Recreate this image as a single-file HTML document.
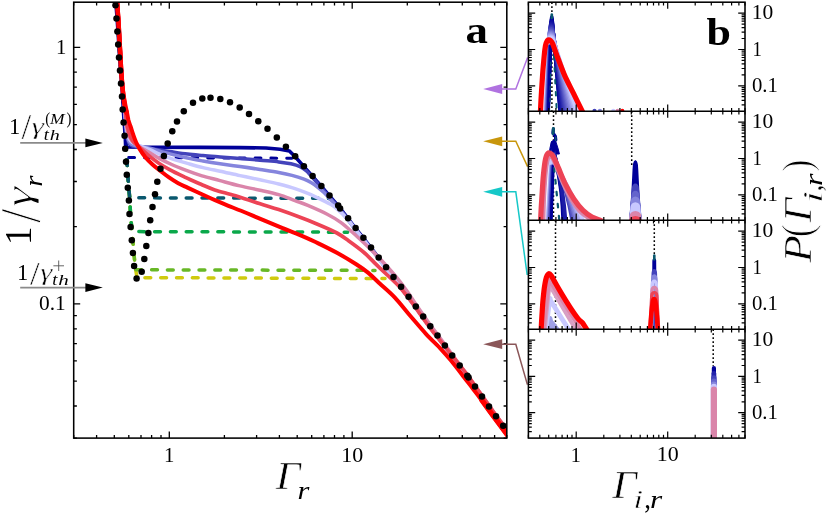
<!DOCTYPE html>
<html lang="en">
<head>
<meta charset="utf-8">
<title>Figure</title>
<style>
html,body{margin:0;padding:0;background:#fff;}
body{width:830px;height:516px;position:relative;overflow:hidden;font-family:"Liberation Serif",serif;}
</style>
</head>
<body>
<svg width="830" height="516" viewBox="0 0 830 516" style="position:absolute;left:0;top:0;display:block;will-change:transform" font-family="'Liberation Serif', serif">
<rect x="0" y="0" width="830" height="516" fill="#fff"/>
<defs>
<clipPath id="ca"><rect x="73.7" y="2.2" width="433.1" height="435.9"/></clipPath>
<clipPath id="cb0"><rect x="528.4" y="2.2" width="216.6" height="109"/></clipPath>
<clipPath id="cb1"><rect x="528.4" y="111.2" width="216.6" height="109"/></clipPath>
<clipPath id="cb2"><rect x="528.4" y="220.2" width="216.6" height="109"/></clipPath>
<clipPath id="cb3"><rect x="528.4" y="329.2" width="216.6" height="108.9"/></clipPath>
</defs>
<g clip-path="url(#ca)" fill="none" stroke-linecap="round" stroke-linejoin="round">
<path d="M116.2 2 L117.5 18.4 L118.4 31.4 L119.2 44.4 L120 57.5 L121 70.5 L122 83.5 L123 96.5 L123.7 109.6 L124.6 122.5 L125.6 135.7 L126.2 148.7 L127 161.8 L127.8 174.8 L128.8 187.8 L129.9 200.5 L130.5 213.9 L131.6 226.9 L132.8 240.2 L133.9 253.1 L135.1 266.1 L137 277.6 L138.5 277.6 L385 278.6" stroke="#d0ca0e" stroke-width="3.5" stroke-dasharray="5.8 10.0"/>
<path d="M116.2 2 L117.5 18.4 L118.4 31.4 L119.2 44.4 L120 57.5 L121 70.5 L122 83.5 L123 96.5 L123.7 109.6 L124.6 122.5 L125.6 135.7 L126.2 148.7 L127 161.8 L127.8 174.8 L128.8 187.8 L129.9 200.5 L130.5 213.9 L131.6 226.9 L132.8 240.2 L133.9 253.1 L135.1 266.1 L135.8 269.8 L137.3 269.8 L375 270.4" stroke="#68b826" stroke-width="3.5" stroke-dasharray="5.8 10.0"/>
<path d="M116.2 2 L117.5 18.4 L118.4 31.4 L119.2 44.4 L120 57.5 L121 70.5 L122 83.5 L123 96.5 L123.7 109.6 L124.6 122.5 L125.6 135.7 L126.2 148.7 L127 161.8 L127.8 174.8 L128.8 187.8 L129.9 200.5 L130.5 213.9 L131.6 226.9 L132 231.6 L133.5 231.6 L347.6 232.2" stroke="#0aa84a" stroke-width="3.5" stroke-dasharray="5.8 10.0"/>
<path d="M116.2 2 L117.5 18.4 L118.4 31.4 L119.2 44.4 L120 57.5 L121 70.5 L122 83.5 L123 96.5 L123.7 109.6 L124.6 122.5 L125.6 135.7 L126.2 148.7 L127 161.8 L127.8 174.8 L128.8 187.8 L129.7 197.8 L131.2 197.8 L331.5 198.4" stroke="#0a586e" stroke-width="3.5" stroke-dasharray="5.8 10.0"/>
<path d="M116.2 2 L117.5 18.4 L118.4 31.4 L119.2 44.4 L120 57.5 L121 70.5 L122 83.5 L123 96.5 L123.7 109.6 L124.6 122.5 L125.6 135.7 L126.2 148.7 L126.7 157.6 L128.2 157.6 L292 158.2" stroke="#000099" stroke-width="3" stroke-dasharray="5.8 10.0"/>
<path d="M115.8 2 L117.1 18.4 L118 31.4 L118.8 44.4 L119.6 57.5 L120.6 70.5 L121.6 83.5 L122.6 96.5 L123.3 109.6 L124.2 122.5 L125.2 135.7 L125.6 145.4 L127.2 147 L140 147.2 L200 147.4 L240 147.6 L266 148 L280 149.2 L289.4 151 L295.2 156.7 L303.9 166.6 L312.6 176.5 L321.4 186.4 L329.5 195.9 L338.2 205.9 L348.1 218.7 L355.6 228.5 L363.4 238.2 L371 247.9 L378.7 257.9 L386.1 267.7 L393.5 277.4 L401.1 287.1 L408.6 297.2 L415.8 306.9 L423.2 317 L430.3 326.7 L437.5 336 L444.9 345.9 L452.2 356 L459.7 366 L467.3 376.2 L475 387 L482 397 L489 406.8 L496 416.6 L503.2 426.1 L510.4 435.8 L517.6 445.4" stroke="#000099" stroke-width="3.6"/>
<path d="M117.3 2 C117.5 5 118.1 12.8 118.6 20 C119 27.2 119.5 36.7 120 45 C120.5 53.3 120.9 62.5 121.4 70 C121.9 77.5 122.5 84.2 122.9 90 C123.3 95.8 123.5 99.2 124 105 C124.5 110.8 125.1 119.5 125.6 125 C126.1 130.5 126.5 134.7 127.2 138 C127.9 141.3 128.5 143.1 130 144.6 C131.5 146.1 132.6 146.3 136 147 C139.4 147.7 146.1 148.4 150.3 148.9 C154.5 149.4 157.6 149.7 161.2 150.2 C164.8 150.7 167.6 151.2 172 151.8 C176.4 152.5 182.3 153.5 187.5 154.1 C192.7 154.7 197.6 155.1 203 155.6 C208.4 156.1 213.8 156.5 220 157 C226.2 157.5 233.3 158.1 240 158.6 C246.7 159.1 253.6 159.6 260 160.2 C266.4 160.8 273.5 161.3 278.7 161.9 C283.9 162.5 287.4 163 291 163.8 C294.6 164.6 297.4 165.4 300 166.6 C302.6 167.8 304.6 169.3 306.5 171 C308.4 172.7 309.4 174.1 311.7 176.6 C313.9 179.1 317.1 182.7 320 186 C322.9 189.3 326.1 193.3 329 196.6 C331.9 199.9 334.4 202.3 337.5 206 C340.6 209.7 344.6 215.1 347.5 218.8 C350.4 222.6 352.2 225.3 354.8 228.5 C357.3 231.7 360.1 235 362.7 238.2 C365.3 241.4 367.8 244.6 370.4 247.9 C373 251.2 375.7 254.6 378.3 257.9 C380.8 261.2 383.2 264.4 385.7 267.7 C388.2 270.9 390.6 274.2 393.1 277.4 C395.6 280.6 398.2 283.8 400.7 287.1 C403.2 290.4 405.8 293.9 408.2 297.2 C410.7 300.5 413 303.6 415.4 306.9 C417.8 310.2 420.4 313.7 422.8 317 C425.2 320.3 427.5 323.5 429.9 326.7 C432.3 329.9 434.7 332.8 437.1 336 C439.5 339.2 442.1 342.6 444.5 345.9 C446.9 349.2 449.3 352.6 451.8 356 C454.3 359.4 456.8 362.6 459.3 366 C461.8 369.4 464.4 372.7 466.9 376.2 C469.5 379.7 472.2 383.5 474.6 387 C477.1 390.5 479.3 393.7 481.6 397 C483.9 400.3 486.3 403.5 488.6 406.8 C490.9 410.1 493.2 413.4 495.6 416.6 C498 419.8 500.4 422.9 502.8 426.1 C505.2 429.3 507.6 432.6 510 435.8 C512.4 439 516 443.8 517.2 445.4" stroke="#4343bb" stroke-width="3.5"/>
<path d="M117.3 2 C117.5 5 118.1 12.8 118.6 20 C119 27.2 119.5 36.7 120 45 C120.5 53.3 120.9 62.5 121.4 70 C121.9 77.5 122.4 84.2 122.9 90 C123.4 95.8 123.7 99.2 124.2 105 C124.7 110.8 125.2 119.7 125.7 125 C126.2 130.3 126.6 133.9 127.4 137 C128.2 140.1 128.8 141.9 130.5 143.4 C132.2 144.9 134.2 145.4 137.5 146.2 C140.8 147 146.1 147.4 150 148.3 C153.9 149.2 157.5 150.6 161.2 151.6 C164.9 152.6 167.6 153.3 172 154.4 C176.4 155.5 182.3 156.9 187.5 158 C192.7 159.1 197.6 160 203 161 C208.4 162 213.8 162.9 220 163.8 C226.2 164.7 233.3 165.7 240 166.6 C246.7 167.5 253.6 168.5 260 169.5 C266.4 170.5 273.4 171.5 278.7 172.5 C284 173.5 287.8 174.3 292 175.4 C296.2 176.5 300.8 178 304 179.2 C307.2 180.4 308.8 181.3 311 182.6 C313.2 183.9 315.3 185.3 317.5 187 C319.7 188.7 321.8 190.4 324 192.6 C326.2 194.8 328.8 197.6 331 200 C333.2 202.4 334.8 204 337.5 207.2 C340.2 210.4 344.7 215.6 347.5 219.2 C350.3 222.8 352 225.3 354.5 228.5 C357 231.7 359.8 235 362.4 238.2 C365.1 241.4 367.6 244.6 370.2 247.9 C372.8 251.2 375.5 254.6 378.1 257.9 C380.6 261.2 383 264.4 385.5 267.7 C388 270.9 390.4 274.2 392.9 277.4 C395.4 280.6 398 283.8 400.5 287.1 C403 290.4 405.6 293.9 408 297.2 C410.4 300.5 412.8 303.6 415.2 306.9 C417.6 310.2 420.2 313.7 422.6 317 C425 320.3 427.3 323.5 429.7 326.7 C432.1 329.9 434.5 332.8 436.9 336 C439.3 339.2 441.8 342.6 444.3 345.9 C446.7 349.2 449.1 352.6 451.6 356 C454.1 359.4 456.6 362.6 459.1 366 C461.6 369.4 464.1 372.7 466.7 376.2 C469.2 379.7 471.9 383.5 474.4 387 C476.8 390.5 479.1 393.7 481.4 397 C483.7 400.3 486.1 403.5 488.4 406.8 C490.7 410.1 493 413.4 495.4 416.6 C497.8 419.8 500.2 422.9 502.6 426.1 C505 429.3 507.4 432.6 509.8 435.8 C512.2 439 515.8 443.8 517 445.4" stroke="#8585dd" stroke-width="3.5"/>
<path d="M117.3 2 C117.5 5 118.1 12.8 118.6 20 C119 27.2 119.5 36.7 120 45 C120.5 53.3 120.9 62.5 121.4 70 C121.9 77.5 122.4 84.2 122.9 90 C123.4 95.8 123.9 99.3 124.4 105 C124.9 110.7 125.4 119 126 124 C126.6 129 126.9 132.1 127.8 135 C128.7 137.9 129.3 139.9 131.2 141.6 C133.1 143.3 135.9 144.1 139 145.4 C142.1 146.7 145.9 147.9 149.5 149.4 C153.1 150.9 156.8 153.1 160.4 154.6 C164.1 156.1 166.9 157.1 171.4 158.6 C175.9 160.1 182.2 161.9 187.5 163.4 C192.8 164.9 197.6 166.3 203 167.6 C208.4 168.9 213.8 169.9 220 171.2 C226.2 172.5 233.3 174.2 240 175.6 C246.7 177 253.6 178.4 260 179.8 C266.4 181.2 272.9 182.5 278.7 184 C284.5 185.5 290.1 187 295 188.6 C299.9 190.2 303.1 191.4 307.8 193.4 C312.5 195.4 319.4 198.7 323.3 200.6 C327.2 202.5 328.7 203.2 331 204.6 C333.3 206 334.9 207.1 336.9 208.8 C338.9 210.5 341.1 212.7 343 214.6 C344.9 216.5 346.3 217.8 348.5 220.4 C350.7 223 353.7 227 356 230 C358.3 233 360 235.2 362.3 238.2 C364.7 241.2 367.4 244.6 370 247.9 C372.6 251.2 375.3 254.6 377.8 257.9 C380.3 261.2 382.8 264.4 385.3 267.7 C387.8 270.9 390.2 274.2 392.7 277.4 C395.2 280.6 397.8 283.8 400.3 287.1 C402.8 290.4 405.4 293.9 407.8 297.2 C410.2 300.5 412.6 303.6 415 306.9 C417.4 310.2 420 313.7 422.4 317 C424.8 320.3 427.1 323.5 429.5 326.7 C431.9 329.9 434.3 332.8 436.7 336 C439.1 339.2 441.6 342.6 444.1 345.9 C446.5 349.2 448.9 352.6 451.4 356 C453.9 359.4 456.4 362.6 458.9 366 C461.4 369.4 463.9 372.7 466.5 376.2 C469.1 379.7 471.8 383.5 474.2 387 C476.6 390.5 478.9 393.7 481.2 397 C483.5 400.3 485.9 403.5 488.2 406.8 C490.5 410.1 492.8 413.4 495.2 416.6 C497.6 419.8 500 422.9 502.4 426.1 C504.8 429.3 507.2 432.6 509.6 435.8 C512 439 515.6 443.8 516.8 445.4" stroke="#c8c8ff" stroke-width="3.5"/>
<path d="M117.3 2 C117.5 5 118.1 12.8 118.6 20 C119 27.2 119.5 36.7 120 45 C120.5 53.3 120.9 62.5 121.4 70 C121.9 77.5 122.4 84.2 122.9 90 C123.4 95.8 124 99.5 124.6 105 C125.1 110.5 125.6 118.2 126.2 123 C126.8 127.8 127.2 130.6 128.2 133.6 C129.2 136.6 130.3 138.8 132.2 141 C134.1 143.2 136.7 144.8 139.4 146.6 C142.1 148.4 145.2 150 148.6 152 C152 154 155.9 156.6 159.6 158.6 C163.3 160.6 166.1 162 170.6 164 C175.1 166 181.1 168.4 186.3 170.4 C191.5 172.4 196.4 174.1 202 175.8 C207.6 177.5 213.7 178.9 220 180.6 C226.3 182.3 233.3 184.3 240 185.9 C246.7 187.5 253.6 188.8 260 190.2 C266.4 191.6 272.9 192.9 278.7 194.6 C284.5 196.3 290.1 198.8 295 200.6 C299.9 202.4 302.4 203.1 307.8 205.4 C313.2 207.7 321.7 211.4 327.2 214.2 C332.7 217 336.5 219.3 340.7 222.3 C344.9 225.3 348.2 228.4 352.4 232.2 C356.6 235.9 361.4 240.5 365.9 244.8 C370.4 249.2 375.3 253.9 379.5 258.3 C383.7 262.7 387.7 267.1 391.1 271 C394.5 274.9 397.2 278 400 281.6 C402.8 285.2 405.5 289 408 292.6 C410.5 296.2 412.2 298.9 415 303 C417.8 307.1 422 313.1 424.7 317 C427.5 320.9 429.3 323.5 431.6 326.7 C434 329.9 436.3 332.8 438.6 336 C441 339.2 443.5 342.6 445.9 345.9 C448.3 349.2 450.7 352.6 453.2 356 C455.7 359.4 458.2 362.6 460.7 366 C463.2 369.4 465.8 372.7 468.3 376.2 C470.9 379.7 473.6 383.5 476 387 C478.4 390.5 480.7 393.7 483 397 C485.3 400.3 487.7 403.5 490 406.8 C492.3 410.1 494.6 413.4 497 416.6 C499.4 419.8 501.8 422.9 504.2 426.1 C506.6 429.3 509 432.6 511.4 435.8 C513.8 439 517.4 443.8 518.6 445.4" stroke="#da85aa" stroke-width="3.5"/>
<path d="M117.3 2 C117.5 5 118.1 12.8 118.6 20 C119 27.2 119.5 36.7 120 45 C120.5 53.3 120.9 62.5 121.4 70 C121.9 77.5 122.3 84.2 122.9 90 C123.5 95.8 124.2 99.8 124.8 105 C125.4 110.2 125.8 116.6 126.4 121 C127 125.4 127.6 128.3 128.6 131.6 C129.6 134.9 130.9 138.1 132.6 140.6 C134.3 143.1 136 144.2 138.6 146.6 C141.2 149 144.5 152.1 147.9 154.9 C151.3 157.7 155.2 160.8 158.8 163.2 C162.4 165.6 165.2 167.2 169.6 169.6 C174 172 180.1 174.9 185.3 177.4 C190.5 179.9 196.1 182.2 201 184.3 C205.9 186.4 209 188 214.8 189.9 C220.6 191.8 228.2 193.4 235.6 195.7 C243 198 252.2 201.3 259.4 203.6 C266.6 205.9 272.2 207.4 278.7 209.6 C285.1 211.8 291.6 214.1 298.1 216.5 C304.6 218.9 311 221.4 317.5 224.2 C324 226.9 331.7 230.2 336.9 233 C342.1 235.8 344 237.4 348.5 240.7 C353 243.9 359.5 248.6 364 252.5 C368.5 256.4 371.7 260.1 375.6 263.9 C379.5 267.6 383.1 271.1 387.2 275 C391.3 278.9 396.2 283.2 400 287.4 C403.8 291.6 406.7 295.6 410 300 C413.3 304.4 416.7 309.3 420 314 C423.3 318.7 427.3 324.3 430 328 C432.7 331.7 434 333 436.4 336 C438.8 339 441.7 342.6 444.4 345.9 C447 349.2 449.6 352.6 452.3 356 C455 359.4 457.8 362.6 460.4 366 C463.1 369.4 465.6 372.7 468.2 376.2 C470.8 379.7 473.4 383.5 475.9 387 C478.3 390.5 480.6 393.7 482.9 397 C485.2 400.3 487.6 403.5 489.9 406.8 C492.2 410.1 494.5 413.4 496.9 416.6 C499.3 419.8 501.7 422.9 504.1 426.1 C506.5 429.3 508.9 432.6 511.3 435.8 C513.7 439 517.3 443.8 518.5 445.4" stroke="#ed4355" stroke-width="3.7"/>
<path d="M117.3 2 C117.5 5 118.1 12.8 118.6 20 C119 27.2 119.5 36.7 120 45 C120.5 53.3 120.9 62.5 121.4 70 C121.9 77.5 122.2 84.2 122.9 90 C123.6 95.8 124.8 101.5 125.4 105 C126 108.5 126.2 108.5 126.7 111 C127.2 113.5 127.8 117.4 128.4 120 C129.1 122.6 129.8 124.2 130.6 126.5 C131.4 128.8 132.1 131.4 133 134 C133.9 136.6 134.9 139.6 136 142 C137.1 144.4 137.8 146 139.4 148.6 C141 151.2 143.4 154.8 145.6 157.5 C147.8 160.2 150 162.2 152.5 164.5 C155 166.8 157.9 168.9 160.7 171.1 C163.4 173.2 166.1 175.4 169 177.4 C171.9 179.4 175.1 181.5 178.2 183.2 C181.3 184.9 183.4 185.7 187.5 187.6 C191.6 189.5 198.4 192.7 203 194.8 C207.6 196.9 210.8 198.4 215 200.2 C219.2 202 223.2 203.7 228.4 205.8 C233.7 207.9 240.5 210.5 246.5 213 C252.5 215.5 258.6 218.1 264.6 220.6 C270.6 223.1 276.6 225.7 282.6 228.2 C288.6 230.7 294.7 232.8 300.7 235.4 C306.7 238 312.8 240.7 318.8 243.6 C324.8 246.5 330.7 249.4 336.9 252.8 C343.1 256.2 351 260.9 356.2 264.2 C361.4 267.5 364.1 269.4 368 272.6 C371.9 275.8 374.9 279 379.4 283.2 C383.9 287.4 389.7 292.1 394.9 297.6 C400.1 303.1 405.2 310 410.4 316 C415.6 322 420.7 328.2 425.9 333.8 C431.1 339.4 437.2 345.1 441.4 349.6 C445.6 354.1 447.4 356.2 451 360.6 C454.6 365 459.8 371.8 463.2 376.2 C466.7 380.6 468.9 383.5 471.6 387 C474.2 390.5 476.7 393.7 479.2 397 C481.6 400.3 484 403.5 486.4 406.8 C488.8 410.1 491 413.4 493.4 416.6 C495.8 419.8 498.2 422.9 500.6 426.1 C503 429.3 505.4 432.6 507.8 435.8 C510.2 439 513.8 443.8 515 445.4" stroke="#ff0000" stroke-width="4"/>
<path d="M117 2 C117.2 5 117.8 12.8 118.3 20 C118.8 27.2 119.2 36.7 119.7 45 C120.2 53.3 120.6 62.5 121.1 70 C121.6 77.5 122.1 84.2 122.7 90 C123.3 95.8 123.9 101.2 124.6 105 C125.2 108.8 126.3 111.7 126.6 113" stroke="#ff0000" stroke-width="4.6"/>
<path d="M481.8 400 L489 410 L500.1 425 L515 445" stroke="#ff0000" stroke-width="5.4"/>
<g fill="#000" stroke="none">
<circle cx="115.5" cy="5.2" r="3.25"/>
<circle cx="116.5" cy="18.4" r="3.25"/>
<circle cx="117.4" cy="31.4" r="3.25"/>
<circle cx="118.2" cy="44.4" r="3.25"/>
<circle cx="119" cy="57.5" r="3.25"/>
<circle cx="120" cy="70.5" r="3.25"/>
<circle cx="121" cy="83.5" r="3.25"/>
<circle cx="122" cy="96.5" r="3.25"/>
<circle cx="122.7" cy="109.6" r="3.25"/>
<circle cx="123.6" cy="122.5" r="3.25"/>
<circle cx="124.6" cy="135.7" r="3.25"/>
<circle cx="125.2" cy="148.7" r="3.25"/>
<circle cx="126" cy="161.8" r="3.25"/>
<circle cx="126.8" cy="174.8" r="3.25"/>
<circle cx="127.8" cy="187.8" r="3.25"/>
<circle cx="128.9" cy="200.5" r="3.25"/>
<circle cx="129.5" cy="213.9" r="3.25"/>
<circle cx="130.6" cy="226.9" r="3.25"/>
<circle cx="131.8" cy="240.2" r="3.25"/>
<circle cx="132.9" cy="253.1" r="3.25"/>
<circle cx="134.1" cy="266.1" r="3.25"/>
<circle cx="136.6" cy="278.6" r="3.25"/>
<circle cx="141.7" cy="271.7" r="3.25"/>
<circle cx="144.3" cy="258.9" r="3.25"/>
<circle cx="146.3" cy="246" r="3.25"/>
<circle cx="148.4" cy="232.9" r="3.25"/>
<circle cx="150.2" cy="220.3" r="3.25"/>
<circle cx="152.5" cy="207.1" r="3.25"/>
<circle cx="155" cy="194.3" r="3.25"/>
<circle cx="157.3" cy="181.7" r="3.25"/>
<circle cx="160.5" cy="168.7" r="3.25"/>
<circle cx="163.9" cy="156" r="3.25"/>
<circle cx="167.7" cy="143.4" r="3.25"/>
<circle cx="172.3" cy="131.3" r="3.25"/>
<circle cx="177" cy="121.5" r="3.25"/>
<circle cx="183.8" cy="111.3" r="3.25"/>
<circle cx="193" cy="102.8" r="3.25"/>
<circle cx="202.3" cy="98.5" r="3.25"/>
<circle cx="210.5" cy="97.8" r="3.25"/>
<circle cx="220.3" cy="99" r="3.25"/>
<circle cx="230" cy="102.2" r="3.25"/>
<circle cx="239.7" cy="107.6" r="3.25"/>
<circle cx="249" cy="114" r="3.25"/>
<circle cx="258.3" cy="121.3" r="3.25"/>
<circle cx="267.5" cy="128.7" r="3.25"/>
<circle cx="276.8" cy="137.4" r="3.25"/>
<circle cx="285.9" cy="146.7" r="3.25"/>
<circle cx="295.2" cy="156.3" r="3.25"/>
<circle cx="303.9" cy="166.2" r="3.25"/>
<circle cx="312.6" cy="176.1" r="3.25"/>
<circle cx="321.4" cy="186" r="3.25"/>
<circle cx="329.5" cy="195.5" r="3.25"/>
<circle cx="338.2" cy="205.5" r="3.25"/>
<circle cx="340.1" cy="208.6" r="3.25"/>
<circle cx="348.1" cy="218.3" r="3.25"/>
<circle cx="355.6" cy="228.1" r="3.25"/>
<circle cx="363.4" cy="237.8" r="3.25"/>
<circle cx="371" cy="247.5" r="3.25"/>
<circle cx="378.7" cy="257.5" r="3.25"/>
<circle cx="386.1" cy="267.3" r="3.25"/>
<circle cx="393.5" cy="277" r="3.25"/>
<circle cx="401.1" cy="286.7" r="3.25"/>
<circle cx="408.6" cy="296.8" r="3.25"/>
<circle cx="415.8" cy="306.5" r="3.25"/>
<circle cx="423.2" cy="316.6" r="3.25"/>
<circle cx="430.3" cy="326.3" r="3.25"/>
<circle cx="437.5" cy="335.6" r="3.25"/>
<circle cx="444.9" cy="345.5" r="3.25"/>
<circle cx="452.2" cy="355.6" r="3.25"/>
<circle cx="459.7" cy="365.6" r="3.25"/>
<circle cx="468.6" cy="377.4" r="3.25"/>
<circle cx="467.3" cy="375.8" r="3.25"/>
<circle cx="475" cy="386.6" r="3.25"/>
<circle cx="482" cy="396.6" r="3.25"/>
<circle cx="489" cy="406.4" r="3.25"/>
<circle cx="496" cy="416.2" r="3.25"/>
<circle cx="503.2" cy="425.7" r="3.25"/>
</g>
</g>
<g stroke="#000" stroke-width="1.3" fill="none">
<path d="M73.7 438.1 v-3.2 M73.7 2.2 v3.2"/>
<path d="M96.6 438.1 v-3.2 M96.6 2.2 v3.2"/>
<path d="M114.3 438.1 v-3.2 M114.3 2.2 v3.2"/>
<path d="M128.8 438.1 v-3.2 M128.8 2.2 v3.2"/>
<path d="M141 438.1 v-3.2 M141 2.2 v3.2"/>
<path d="M151.6 438.1 v-3.2 M151.6 2.2 v3.2"/>
<path d="M161 438.1 v-3.2 M161 2.2 v3.2"/>
<path d="M169.3 438.1 v-6.5 M169.3 2.2 v6.5"/>
<path d="M224.4 438.1 v-3.2 M224.4 2.2 v3.2"/>
<path d="M256.6 438.1 v-3.2 M256.6 2.2 v3.2"/>
<path d="M279.4 438.1 v-3.2 M279.4 2.2 v3.2"/>
<path d="M297.2 438.1 v-3.2 M297.2 2.2 v3.2"/>
<path d="M311.7 438.1 v-3.2 M311.7 2.2 v3.2"/>
<path d="M323.9 438.1 v-3.2 M323.9 2.2 v3.2"/>
<path d="M334.5 438.1 v-3.2 M334.5 2.2 v3.2"/>
<path d="M343.9 438.1 v-3.2 M343.9 2.2 v3.2"/>
<path d="M352.2 438.1 v-6.5 M352.2 2.2 v6.5"/>
<path d="M407.3 438.1 v-3.2 M407.3 2.2 v3.2"/>
<path d="M439.5 438.1 v-3.2 M439.5 2.2 v3.2"/>
<path d="M462.3 438.1 v-3.2 M462.3 2.2 v3.2"/>
<path d="M480.1 438.1 v-3.2 M480.1 2.2 v3.2"/>
<path d="M494.6 438.1 v-3.2 M494.6 2.2 v3.2"/>
<path d="M506.8 438.1 v-3.2 M506.8 2.2 v3.2"/>
<path d="M73.7 438.1 h3.2 M506.8 438.1 h-3.2"/>
<path d="M73.7 406 h3.2 M506.8 406 h-3.2"/>
<path d="M73.7 381.2 h3.2 M506.8 381.2 h-3.2"/>
<path d="M73.7 360.9 h3.2 M506.8 360.9 h-3.2"/>
<path d="M73.7 343.7 h3.2 M506.8 343.7 h-3.2"/>
<path d="M73.7 328.8 h3.2 M506.8 328.8 h-3.2"/>
<path d="M73.7 315.7 h3.2 M506.8 315.7 h-3.2"/>
<path d="M73.7 303.9 h6.5 M506.8 303.9 h-6.5"/>
<path d="M73.7 226.7 h3.2 M506.8 226.7 h-3.2"/>
<path d="M73.7 181.5 h3.2 M506.8 181.5 h-3.2"/>
<path d="M73.7 149.5 h3.2 M506.8 149.5 h-3.2"/>
<path d="M73.7 124.6 h3.2 M506.8 124.6 h-3.2"/>
<path d="M73.7 104.3 h3.2 M506.8 104.3 h-3.2"/>
<path d="M73.7 87.1 h3.2 M506.8 87.1 h-3.2"/>
<path d="M73.7 72.2 h3.2 M506.8 72.2 h-3.2"/>
<path d="M73.7 59.1 h3.2 M506.8 59.1 h-3.2"/>
<path d="M73.7 47.4 h6.5 M506.8 47.4 h-6.5"/>
</g>
<rect x="73.7" y="2.2" width="433.1" height="435.9" fill="none" stroke="#000" stroke-width="1.55"/>
<text transform="matrix(0.2074 0 0 0.2106 164.08 461.70)" font-size="100" fill="#000">1</text>
<text transform="matrix(0.2197 0 0 0.2089 341.27 461.50)" font-size="100" fill="#000">10</text>
<text transform="matrix(0.2074 0 0 0.2136 55.98 53.90)" font-size="100" fill="#000">1</text>
<text transform="matrix(0.2136 0 0 0.2091 38.99 310.10)" font-size="100" fill="#000">0.1</text>
<text transform="matrix(0.4336 0 0 0.4017 275.86 488.60)" font-size="100" fill="#000" stroke="#fff" stroke-width="0.6" vector-effect="non-scaling-stroke" font-style="italic">Γ</text>
<text transform="matrix(0.3044 0 0 0.2547 297.47 499.10)" font-size="100" fill="#000" font-style="italic">r</text>
<text transform="rotate(-90) matrix(0.3693 0 0 0.3832 -244.95 31.40)" font-size="100" fill="#000">1</text>
<text transform="rotate(-90) matrix(0.5147 0 0 0.5666 -222.90 39.95)" font-size="100" fill="#000" stroke="#fff" stroke-width="0.9" vector-effect="non-scaling-stroke">/</text>
<text transform="rotate(-90) matrix(0.5126 0 0 0.3676 -206.93 30.87)" font-size="100" fill="#000" stroke="#fff" stroke-width="1" vector-effect="non-scaling-stroke" font-style="italic">γ</text>
<text transform="rotate(-90) matrix(0.2873 0 0 0.2589 -186.76 41.90)" font-size="100" fill="#000" font-style="italic">r</text>
<path d="M20.2 142.9 H88" stroke="#8a8a8a" stroke-width="1.6" fill="none"/>
<path d="M102.8 142.9 L85.4 138.6 L85.4 147.2 Z" fill="#000"/>
<text transform="matrix(0.2272 0 0 0.2363 8.90 133.70)" font-size="100" fill="#000">1</text>
<text transform="matrix(0.3491 0 0 0.3588 21.40 139.25)" font-size="100" fill="#000" stroke="#fff" stroke-width="0.5" vector-effect="non-scaling-stroke">/</text>
<text transform="matrix(0.3166 0 0 0.2322 31.43 133.86)" font-size="100" fill="#000" stroke="#fff" stroke-width="0.5" vector-effect="non-scaling-stroke" font-style="italic">γ</text>
<text transform="matrix(0.1851 0 0 0.1676 43.79 139.74)" font-size="100" fill="#000" font-style="italic">t</text>
<text transform="matrix(0.2012 0 0 0.1499 49.77 139.90)" font-size="100" fill="#000" font-style="italic">h</text>
<text transform="matrix(0.1480 0 0 0.1577 45.25 124.04)" font-size="100" fill="#000">(</text>
<text transform="matrix(0.1752 0 0 0.1481 49.91 124.00)" font-size="100" fill="#000" font-style="italic">M</text>
<text transform="matrix(0.1480 0 0 0.1577 66.52 124.04)" font-size="100" fill="#000">)</text>
<path d="M20.2 287.6 H88" stroke="#8a8a8a" stroke-width="1.6" fill="none"/>
<path d="M102.8 287.6 L85.4 283.3 L85.4 291.9 Z" fill="#000"/>
<text transform="matrix(0.2272 0 0 0.2363 16.90 279.90)" font-size="100" fill="#000">1</text>
<text transform="matrix(0.3455 0 0 0.3468 30.10 284.56)" font-size="100" fill="#000" stroke="#fff" stroke-width="0.5" vector-effect="non-scaling-stroke">/</text>
<text transform="matrix(0.3066 0 0 0.2381 40.25 279.83)" font-size="100" fill="#000" stroke="#fff" stroke-width="0.5" vector-effect="non-scaling-stroke" font-style="italic">γ</text>
<text transform="matrix(0.1851 0 0 0.1694 52.19 284.73)" font-size="100" fill="#000" font-style="italic">t</text>
<text transform="matrix(0.2107 0 0 0.1484 58.14 284.90)" font-size="100" fill="#000" font-style="italic">h</text>
<path d="M53.4 265.8 H64 M58.7 260.5 V271" stroke="#555" stroke-width="0.9" fill="none"/>
<text transform="matrix(0.4485 0 0 0.3695 465.45 42.84)" font-size="100" fill="#000" font-weight="bold">a</text>
<path d="M501 89 H515.8 L527.6 57.6" stroke="#b072e0" stroke-width="1.5" fill="none" stroke-linejoin="miter"/>
<path d="M483.2 89 L502.2 84.1 L502.2 93.9 Z" fill="#b072e0"/>
<path d="M501 141.3 H515.8 L527.6 166.6" stroke="#c8960c" stroke-width="1.5" fill="none" stroke-linejoin="miter"/>
<path d="M483.2 141.3 L502.2 136.4 L502.2 146.2 Z" fill="#c8960c"/>
<path d="M501 191.8 H515.8 L527.2 275" stroke="#16c8c8" stroke-width="1.5" fill="none" stroke-linejoin="miter"/>
<path d="M483.2 191.8 L502.2 186.9 L502.2 196.7 Z" fill="#16c8c8"/>
<path d="M501 344.2 H515.8 L527.4 384.6" stroke="#8a5658" stroke-width="1.5" fill="none" stroke-linejoin="miter"/>
<path d="M483.2 344.2 L502.2 339.3 L502.2 349.1 Z" fill="#8a5658"/>
<g stroke="#000" stroke-width="1.5" stroke-dasharray="1.7 2.3" fill="none">
<path d="M551.9 2.2 V111.2"/>
<path d="M553.5 111.2 V220.2"/>
<path d="M631.7 111.2 V166"/>
<path d="M555.5 220.2 V329.2"/>
<path d="M654.3 220.2 V257"/>
<path d="M713.2 329.2 V366"/>
</g>
<g clip-path="url(#cb0)" fill="none" stroke-linecap="round" stroke-linejoin="round">
<path d="M551 44 L551.6 24 L551.6 18 L551.8 17 L552 18 L560.4 114.2" stroke="#000099" stroke-width="3.6"/>
<path d="M550.8 44 L551.3 25.9 L551.3 19.9 L551.7 18.9 L552.1 19.9 L560.6 114.2" stroke="#03039a" stroke-width="3.6"/>
<path d="M550.6 44 L551.1 27.5 L551.1 21.5 L551.6 20.5 L552.1 21.5 L561.1 114.2" stroke="#08089d" stroke-width="3.6"/>
<path d="M550.4 44 L550.8 28.9 L550.8 22.9 L551.5 21.9 L552.2 22.9 L561.7 114.2" stroke="#0f0fa1" stroke-width="3.6"/>
<path d="M550.2 44 L550.6 30.4 L550.6 24.4 L551.4 23.4 L552.3 24.4 L562.5 114.2" stroke="#1818a5" stroke-width="3.6"/>
<path d="M550.1 44 L550.4 31.8 L550.4 25.8 L551.3 24.8 L552.3 25.8 L563.4 114.2" stroke="#2222ab" stroke-width="3.6"/>
<path d="M549.9 44 L550.2 33.1 L550.2 27.1 L551.3 26.1 L552.4 27.1 L564.4 114.2" stroke="#2e2eb1" stroke-width="3.6"/>
<path d="M549.7 44 L550 34.4 L550 28.4 L551.2 27.4 L552.4 28.4 L565.5 114.2" stroke="#3b3bb7" stroke-width="3.6"/>
<path d="M549.5 44 L549.7 35.7 L549.8 29.7 L551.1 28.7 L552.5 29.7 L566.7 114.2" stroke="#4949be" stroke-width="3.6"/>
<path d="M549.4 44 L549.5 37 L549.6 31 L551 30 L552.5 31 L568 114.2" stroke="#5858c6" stroke-width="3.6"/>
<path d="M549.2 44 L549.3 38.3 L549.4 32.3 L551 31.3 L552.6 32.3 L569.4 114.2" stroke="#6969ce" stroke-width="3.6"/>
<path d="M549 44 L549.1 39.5 L549.2 33.5 L550.9 32.5 L552.6 33.5 L570.9 114.2" stroke="#7a7ad7" stroke-width="3.6"/>
<path d="M548.8 44 L548.9 40.8 L549 34.8 L550.8 33.8 L552.7 34.8 L572.5 114.2" stroke="#8c8ce0" stroke-width="3.6"/>
<path d="M548.7 44 L548.7 42 L548.8 36 L550.7 35 L552.7 36 L574.2 114.2" stroke="#9f9fea" stroke-width="3.6"/>
<path d="M548.5 44 L548.5 43.2 L548.6 37.2 L550.7 36.2 L552.8 37.2 L576 114.2" stroke="#b3b3f4" stroke-width="3.6"/>
<path d="M548.4 44 L548.3 44.4 L548.4 38.4 L550.6 37.4 L552.8 38.4 L577.8 114.2" stroke="#c8c8ff" stroke-width="3.6"/>
<path d="M544.5 114.2 L548.5 46" stroke="#c8c8ff" stroke-width="2.6"/>
<path d="M545 114.2 L548.6 46" stroke="#b3b3f4" stroke-width="2.6"/>
<path d="M545.4 114.2 L548.8 46" stroke="#9f9fea" stroke-width="2.6"/>
<path d="M545.8 114.2 L548.9 46" stroke="#8c8ce0" stroke-width="2.6"/>
<path d="M546.1 114.2 L549.1 46" stroke="#7a7ad7" stroke-width="2.6"/>
<path d="M546.5 114.2 L549.3 46" stroke="#6969ce" stroke-width="2.6"/>
<path d="M546.8 114.2 L549.5 46" stroke="#5858c6" stroke-width="2.6"/>
<path d="M547.1 114.2 L549.7 46" stroke="#4949be" stroke-width="2.6"/>
<path d="M547.4 114.2 L549.8 46" stroke="#3b3bb7" stroke-width="2.6"/>
<path d="M547.7 114.2 L550 46" stroke="#2e2eb1" stroke-width="2.6"/>
<path d="M547.9 114.2 L550.2 46" stroke="#2222ab" stroke-width="2.6"/>
<path d="M548.1 114.2 L550.4 46" stroke="#1818a5" stroke-width="2.6"/>
<path d="M548.3 114.2 L550.6 46" stroke="#0f0fa1" stroke-width="2.6"/>
<path d="M548.4 114.2 L550.7 46" stroke="#08089d" stroke-width="2.6"/>
<path d="M548.5 114.2 L550.9 46" stroke="#03039a" stroke-width="2.6"/>
<path d="M548.6 114.2 L551.1 46" stroke="#000099" stroke-width="2.6"/>
<path d="M551.8 14.6 V18" stroke="#0a586e" stroke-width="2.6"/>
<path d="M554.0 56 L556.9 114.2" stroke="#0a586e" stroke-width="2.0" stroke-dasharray="3.6 8.4"/>
<path d="M550.8 62 L549.6 114.2" stroke="#0a586e" stroke-width="1.2" stroke-dasharray="3.6 8.4"/>
<path d="M540.3 114 C540.4 112.1 540.8 104 541 100 C541.2 96 541.7 88.4 542 84 C542.3 79.6 542.8 71.5 543.2 67 C543.6 62.5 544.4 53.2 544.8 50 C545.2 46.8 545.7 44.3 546.2 43 C546.7 41.7 547.6 40.2 548.2 39.9 C548.8 39.6 549.8 40 550.4 40.5 C551 41 551.7 41.6 552.6 43.6 C553.5 45.6 555.2 51 556.8 55.2 C558.4 59.4 562.4 70.3 564.6 75.4 C566.8 80.5 571.1 88.5 573.5 93.4 C575.9 98.3 581.2 109.1 582.6 112 C584 114.9 583.8 114.6 584 115" stroke="#ff0000" stroke-width="5.2"/>
<circle cx="594.5" cy="110.8" r="2.1" fill="#4343bb" stroke="none"/>
<circle cx="599.9" cy="110.8" r="2.1" fill="#8585dd" stroke="none"/>
<circle cx="613.3" cy="110.8" r="2.1" fill="#c8c8ff" stroke="none"/>
<circle cx="617.6" cy="110.8" r="2.1" fill="#da85aa" stroke="none"/>
<circle cx="622.3" cy="110.8" r="2.1" fill="#ff0000" stroke="none"/>
</g>
<g clip-path="url(#cb1)" fill="none" stroke-linecap="round" stroke-linejoin="round">
<path d="M552 141.5 L555.8 141.5 L558.2 149 L559.4 154 L549.6 154 L549.8 149 Z" fill="#000099" stroke="#000099" stroke-width="1"/>
<path d="M553.2 164 L553.4 156 L553.4 150 L554.8 155.6 L556 161.2 L557.4 167.6 L559.2 178.1 L561.2 192.1 L562.5 206.2 L563.2 220.2 L563.7 223.7" stroke="#000099" stroke-width="3.8"/>
<path d="M553.1 164 L553.3 156.3 L553.3 150.3 L554.8 155.9 L556.1 161.5 L557.5 167.8 L559.6 178.3 L561.8 192.2 L563.4 206.2 L564.3 220.2 L564.8 223.7" stroke="#0e0ea0" stroke-width="3.8"/>
<path d="M553 164 L553.2 156.6 L553.2 150.6 L554.8 156.2 L556.2 161.7 L557.8 168 L560 178.4 L562.4 192.4 L564.2 206.3 L565.4 220.2 L566 223.7" stroke="#1c1ca7" stroke-width="3.8"/>
<path d="M552.2 164 L552.3 158 L552.4 152 L554.6 157.5 L556.6 162.9 L558.9 169.1 L562.2 179.3 L566.2 192.9 L569.5 206.6 L572.2 220.2 L573.2 223.6" stroke="#4343bb" stroke-width="3.8"/>
<path d="M551.9 164 L552 158.6 L552.1 152.6 L554.4 158 L556.6 163.4 L559 169.5 L562.7 179.7 L567 193.2 L570.7 206.7 L573.7 220.2 L574.8 223.6" stroke="#5858c6" stroke-width="3.8"/>
<path d="M551.5 164 L551.6 159.4 L551.7 153.4 L554.2 158.7 L556.6 164.1 L559.2 170.1 L563.1 180.1 L567.9 193.5 L572 206.8 L575.5 220.2 L576.7 223.5" stroke="#7070d2" stroke-width="3.8"/>
<path d="M551.2 164 L551.3 160 L551.4 154 L554 159.3 L556.6 164.6 L559.3 170.6 L563.6 180.5 L568.7 193.7 L573.2 207 L577 220.2 L578.3 223.5" stroke="#8585dd" stroke-width="3.8"/>
<path d="M550.8 164 L550.9 160.8 L551 154.8 L553.8 160 L556.6 165.3 L559.5 171.2 L564.1 181 L569.7 194 L574.7 207.1 L579 220.2 L580.4 223.5" stroke="#9c9ce9" stroke-width="3.8"/>
<path d="M550.5 164 L550.5 161.5 L550.6 155.5 L553.6 160.7 L556.5 165.9 L559.7 171.7 L564.6 181.4 L570.7 194.3 L576.1 207.3 L580.8 220.2 L582.4 223.4" stroke="#b0b0f3" stroke-width="3.8"/>
<path d="M550 164 L550 162.4 L550.2 156.4 L553.4 161.5 L556.5 166.6 L559.9 172.3 L565.2 181.9 L571.8 194.7 L577.7 207.4 L583 220.2 L584.6 223.4" stroke="#c8c8ff" stroke-width="3.8"/>
<path d="M546.7 223.2 L550.1 166" stroke="#c8c8ff" stroke-width="2.6"/>
<path d="M547.3 223.2 L550.5 166" stroke="#b0b0f3" stroke-width="2.6"/>
<path d="M547.8 223.2 L550.9 166" stroke="#9c9ce9" stroke-width="2.6"/>
<path d="M548.3 223.2 L551.3 166" stroke="#8585dd" stroke-width="2.6"/>
<path d="M548.8 223.2 L551.6 166" stroke="#7070d2" stroke-width="2.6"/>
<path d="M549.3 223.2 L552 166" stroke="#5858c6" stroke-width="2.6"/>
<path d="M549.8 223.2 L552.3 166" stroke="#4343bb" stroke-width="2.6"/>
<path d="M550.8 223.2 L553.1 166" stroke="#1c1ca7" stroke-width="2.6"/>
<path d="M551 223.2 L553.2 166" stroke="#0e0ea0" stroke-width="2.6"/>
<path d="M551.2 223.2 L553.3 166" stroke="#000099" stroke-width="2.6"/>
<path d="M553.4 129 L553 133 L555.4 136.4 L555.8 140 L552.4 142.6 L551.8 146 L553.8 148.6 L553 152" stroke="#000099" stroke-width="3.2"/>
<path d="M553.4 128.6 L553.0 133.6" stroke="#0a586e" stroke-width="3.0"/>
<path d="M555.7 137 L555.7 140.5" stroke="#0a586e" stroke-width="1.5"/>
<path d="M554.2 168 L559.6 223.2" stroke="#0a586e" stroke-width="2.2" stroke-dasharray="3.6 8.4"/>
<path d="M543.4 223.2 C543.5 219.8 543.9 204.3 544.2 198 C544.5 191.7 545.2 180.9 545.6 176 C546 171.1 546.9 164 547.4 161.4 C547.9 158.8 548.9 157 549.6 156.6 C550.3 156.2 551.6 156.9 552.6 158.6 C553.6 160.3 555.9 166.1 557.4 169.6 C558.9 173.1 561.7 180.9 563.6 185 C565.5 189.1 569.4 196.7 571.6 200.2 C573.8 203.7 577.8 209.3 580 211.6 C582.2 213.9 586 216.5 588 217.8 C590 219.1 594.1 220.6 595 221" stroke="#da85aa" stroke-width="3.8"/>
<path d="M540.4 224.2 C540.5 222 541 211.6 541.2 208 C541.4 204.4 541.6 201.4 541.9 197 C542.2 192.6 542.9 180.1 543.4 175 C543.9 169.9 544.9 161.5 545.6 158.6 C546.3 155.7 547.4 153.4 548.4 153 C549.4 152.6 551.6 153.8 552.9 155.8 C554.2 157.8 556.8 164.1 558.4 167.8 C560 171.5 563 179.4 565.1 183.6 C567.2 187.8 571.6 195.6 574 199.2 C576.4 202.8 580.6 208 583 210.4 C585.4 212.8 589.7 215.7 591.9 217 C594.1 218.3 597.9 219.2 599.4 219.8 C600.9 220.4 602.5 221.5 603 221.8" stroke="#ed4355" stroke-width="5.2"/>
<path d="M628.8 223 L629.3 216.5 L629.8 212 L630.3 206 L630.8 200 L631.5 190 L632 180 L632.5 170 L632.9 164.5 L633.2 163.2 L633.6 162 L634.1 161 L634.9 160.4 L635.4 160 L635.9 160.4 L636.7 161 L637.2 162 L637.6 163.2 L637.9 164.5 L638.3 170 L638.8 180 L639.3 190 L640 200 L640.5 206 L641 212 L641.5 216.5 L642 223 Z" fill="#000099" stroke="none"/>
<path d="M629 223 L629.5 216.5 L630 212 L630.5 206 L631 200 L631.7 190 L631.9 187.9 L632.1 186.6 L632.6 185.4 L633.3 184.4 L634 183.8 L635.4 183.4 L636.8 183.8 L637.5 184.4 L638.2 185.4 L638.7 186.6 L638.9 187.9 L639.1 190 L639.8 200 L640.3 206 L640.8 212 L641.2 216.5 L641.8 223 Z" fill="#4343bb" stroke="none"/>
<path d="M629 223 L629.5 216.5 L630 212 L630.5 206 L631 200 L631.4 195.2 L631.6 193.9 L632.2 192.7 L633 191.7 L633.9 191.1 L635.4 190.7 L636.9 191.1 L637.8 191.7 L638.6 192.7 L639.2 193.9 L639.4 195.2 L639.8 200 L640.3 206 L640.8 212 L641.2 216.5 L641.8 223 Z" fill="#6464cc" stroke="none"/>
<path d="M629 223 L629.5 216.5 L630 212 L630.5 206 L630.9 201 L631.2 199.7 L631.8 198.5 L632.8 197.5 L633.7 196.9 L635.4 196.5 L637.1 196.9 L638 197.5 L639 198.5 L639.6 199.7 L639.9 201 L640.3 206 L640.8 212 L641.2 216.5 L641.8 223 Z" fill="#8585dd" stroke="none"/>
<path d="M629 223 L629.5 216.5 L630 212 L630.5 206.8 L630.8 205.5 L631.5 204.3 L632.5 203.3 L633.5 202.7 L635.4 202.3 L637.3 202.7 L638.3 203.3 L639.3 204.3 L640 205.5 L640.3 206.8 L640.8 212 L641.2 216.5 L641.8 223 Z" fill="#c8c8ff" stroke="none"/>
<path d="M629 223 L629.7 215.5 L630 214.2 L630.9 213 L632 212 L633.2 211.4 L635.4 211 L637.6 211.4 L638.8 212 L639.9 213 L640.8 214.2 L641.1 215.5 L641.8 223 Z" fill="#da85aa" stroke="none"/>
<path d="M629 223 L629.2 220.5 L629.6 219.2 L630.4 218 L631.7 217 L633 216.4 L635.4 216 L637.8 216.4 L639.1 217 L640.4 218 L641.2 219.2 L641.6 220.5 L641.8 223 Z" fill="#ed4355" stroke="none"/>
</g>
<g clip-path="url(#cb2)" fill="none" stroke-linecap="round" stroke-linejoin="round">
<path d="M545.4 332.2 C545.7 331.5 548.8 324.5 549.2 323.4 C549.6 322.2 549.9 318.5 550.1 318.4 C550.3 318.3 550.5 320.6 551.3 321.8 C552.1 322.9 558.8 331.3 559.4 332.2" stroke="#a0a0e6" stroke-width="4.4" fill="#a0a0e6"/>
<path d="M545.6 332.2 C545.9 329.8 548.8 306.1 549.2 303.3 C549.6 300.5 549.9 298.4 550.1 298.3 C550.3 298.2 549.6 298.9 551.3 301.7 C553 304.5 568.8 329.7 570.4 332.2" stroke="#c8c8ff" stroke-width="4.8"/>
<path d="M544.5 332.2 C544.8 328.6 548.5 293.4 549 289.4 C549.5 285.4 549.7 284.5 549.9 284.4 C550.1 284.3 548.8 283.8 551.1 287.8 C553.4 291.8 575.1 328.5 577.3 332.2" stroke="#d8a0c4" stroke-width="4"/>
<path d="M543.2 332.2 C543.7 328.2 548.2 288.4 548.7 284 C549.2 279.6 549.4 279.1 549.6 279 C549.8 278.9 548.1 278 550.8 282.4 C553.5 286.8 579.8 328.1 582.5 332.2" stroke="#dc88ac" stroke-width="4"/>
<path d="M541 333.2 C541.1 330.9 541.6 320.4 541.9 316 C542.2 311.6 542.6 304 543 300 C543.4 296 544.1 289 544.6 286 C545.1 283 545.8 279.1 546.4 277.4 C547 275.7 548.2 273.8 548.8 273.6 C549.4 273.4 550.3 274.3 551.2 275.6 C552.1 276.9 554 280.5 555.4 283 C556.8 285.5 560.1 291.2 562 294.4 C563.9 297.6 567.9 304 570 307.2 C572.1 310.4 576.3 316.5 578 318.6 C579.7 320.7 581.7 321.9 582.6 323 C583.5 324.1 584.1 325.2 585 326.6 C585.9 328 588.5 332.3 589 333.2" stroke="#ff0000" stroke-width="5.2"/>
<path d="M653.3 332.2 C653.4 327.5 653.7 299.8 653.8 291.7 C653.9 283.6 654 266.5 654 262.8 C654.1 259.1 654.1 260.8 654.1 260.4 C654.2 260.1 654.3 259.8 654.3 259.8 C654.3 259.8 654.4 260.1 654.4 260.4 C654.5 260.8 654.5 259.1 654.5 262.8 C654.6 266.5 654.7 283.6 654.8 291.7 C654.9 299.8 655.2 327.5 655.3 332.2" stroke="#000099" stroke-width="3.4"/>
<path d="M652.5 332.2 C652.6 328.2 652.9 304.6 653 297.8 C653 291 653.1 276.9 653.2 273.8 C653.3 270.7 653.5 271.8 653.6 271.4 C653.8 271.1 654.1 270.8 654.3 270.8 C654.5 270.8 654.8 271.1 655 271.4 C655.1 271.8 655.3 270.7 655.4 273.8 C655.5 276.9 655.6 291 655.6 297.8 C655.7 304.6 656 328.2 656.1 332.2" stroke="#4343bb" stroke-width="3.4"/>
<path d="M651.7 332.2 C651.8 328.5 652.2 306.8 652.3 300.6 C652.5 294.4 652.6 281.8 652.7 279 C652.8 276.2 653.2 277 653.3 276.6 C653.5 276.2 654.1 276 654.3 276 C654.5 276 655.1 276.2 655.3 276.6 C655.4 277 655.8 276.2 655.9 279 C656 281.8 656.1 294.4 656.2 300.6 C656.4 306.8 656.8 328.5 656.9 332.2" stroke="#8585dd" stroke-width="3.4"/>
<path d="M651.1 332.2 C651.2 328.9 651.7 309.1 651.9 303.5 C652 298 652.2 286.8 652.3 284.3 C652.4 281.8 652.9 282.3 653.1 281.9 C653.3 281.6 654 281.3 654.3 281.3 C654.6 281.3 655.3 281.6 655.5 281.9 C655.7 282.3 656.2 281.8 656.3 284.3 C656.4 286.8 656.6 298 656.7 303.5 C656.9 309.1 657.4 328.9 657.5 332.2" stroke="#c8c8ff" stroke-width="3.4"/>
<path d="M650.4 332.2 C650.5 329.2 651.3 311.8 651.4 306.9 C651.6 302 651.8 292.6 652 290.4 C652.2 288.2 652.7 288.4 652.9 288 C653.2 287.6 654 287.4 654.3 287.4 C654.6 287.4 655.4 287.6 655.7 288 C655.9 288.4 656.4 288.2 656.6 290.4 C656.8 292.6 657 302 657.2 306.9 C657.3 311.8 658.1 329.2 658.2 332.2" stroke="#da85aa" stroke-width="3.4"/>
<path d="M649.9 332.2 C650 329.6 650.9 314 651.1 309.8 C651.4 305.5 651.6 297.5 651.8 295.6 C652 293.7 652.5 293.6 652.8 293.2 C653.1 292.8 653.9 292.6 654.3 292.6 C654.6 292.6 655.5 292.8 655.8 293.2 C656.1 293.6 656.6 293.7 656.8 295.6 C657 297.5 657.2 305.5 657.5 309.8 C657.7 314 658.6 329.6 658.7 332.2" stroke="#ed4355" stroke-width="3.4"/>
<path d="M650 332.2 C650.1 330.8 650.8 320.6 651 318 C651.2 315.4 652 307.7 652.2 306 C652.4 304.3 652.8 301.5 653 300.8 C653.2 300.1 653.9 299 654.1 299 C654.3 299 655 300.1 655.2 300.8 C655.4 301.5 655.8 304.3 656 306 C656.2 307.7 656.8 315.4 657 318 C657.2 320.6 657.9 330.8 658 332.2" stroke="#ff0000" stroke-width="4.6"/>
<path d="M654.3 255.6 V259.5" stroke="#0a586e" stroke-width="2.6"/>
</g>
<g clip-path="url(#cb3)" fill="none" stroke-linecap="round" stroke-linejoin="round">
<path d="M713.9 368.1 V441.1" stroke="#000099" stroke-width="4.2"/>
<path d="M713.9 373.4 V441.1" stroke="#2424ab" stroke-width="4.8"/>
<path d="M713.9 377.9 V441.1" stroke="#4343bb" stroke-width="5.4"/>
<path d="M713.9 381.5 V441.1" stroke="#6464cc" stroke-width="5.8"/>
<path d="M713.9 384.4 V441.1" stroke="#8585dd" stroke-width="6"/>
<path d="M713.9 386.9 V441.1" stroke="#c8c8ff" stroke-width="6.2"/>
<path d="M713.9 389.5 V441.1" stroke="#da85aa" stroke-width="6.2"/>
</g>
<g stroke="#000" stroke-width="1.2" fill="none">
<path d="M528.4 2.2 v3.3"/>
<path d="M528.4 438.1 v-3.3"/>
<path d="M528.4 107.9 v6.6"/>
<path d="M528.4 216.9 v6.6"/>
<path d="M528.4 325.9 v6.6"/>
<path d="M539.8 2.2 v3.3"/>
<path d="M539.8 438.1 v-3.3"/>
<path d="M539.8 107.9 v6.6"/>
<path d="M539.8 216.9 v6.6"/>
<path d="M539.8 325.9 v6.6"/>
<path d="M548.7 2.2 v3.3"/>
<path d="M548.7 438.1 v-3.3"/>
<path d="M548.7 107.9 v6.6"/>
<path d="M548.7 216.9 v6.6"/>
<path d="M548.7 325.9 v6.6"/>
<path d="M555.9 2.2 v3.3"/>
<path d="M555.9 438.1 v-3.3"/>
<path d="M555.9 107.9 v6.6"/>
<path d="M555.9 216.9 v6.6"/>
<path d="M555.9 325.9 v6.6"/>
<path d="M562.1 2.2 v3.3"/>
<path d="M562.1 438.1 v-3.3"/>
<path d="M562.1 107.9 v6.6"/>
<path d="M562.1 216.9 v6.6"/>
<path d="M562.1 325.9 v6.6"/>
<path d="M567.4 2.2 v3.3"/>
<path d="M567.4 438.1 v-3.3"/>
<path d="M567.4 107.9 v6.6"/>
<path d="M567.4 216.9 v6.6"/>
<path d="M567.4 325.9 v6.6"/>
<path d="M572 2.2 v3.3"/>
<path d="M572 438.1 v-3.3"/>
<path d="M572 107.9 v6.6"/>
<path d="M572 216.9 v6.6"/>
<path d="M572 325.9 v6.6"/>
<path d="M576.2 2.2 v6.6"/>
<path d="M576.2 438.1 v-6.6"/>
<path d="M576.2 104.6 v13.2"/>
<path d="M576.2 213.6 v13.2"/>
<path d="M576.2 322.6 v13.2"/>
<path d="M603.8 2.2 v3.3"/>
<path d="M603.8 438.1 v-3.3"/>
<path d="M603.8 107.9 v6.6"/>
<path d="M603.8 216.9 v6.6"/>
<path d="M603.8 325.9 v6.6"/>
<path d="M619.9 2.2 v3.3"/>
<path d="M619.9 438.1 v-3.3"/>
<path d="M619.9 107.9 v6.6"/>
<path d="M619.9 216.9 v6.6"/>
<path d="M619.9 325.9 v6.6"/>
<path d="M631.3 2.2 v3.3"/>
<path d="M631.3 438.1 v-3.3"/>
<path d="M631.3 107.9 v6.6"/>
<path d="M631.3 216.9 v6.6"/>
<path d="M631.3 325.9 v6.6"/>
<path d="M640.2 2.2 v3.3"/>
<path d="M640.2 438.1 v-3.3"/>
<path d="M640.2 107.9 v6.6"/>
<path d="M640.2 216.9 v6.6"/>
<path d="M640.2 325.9 v6.6"/>
<path d="M647.4 2.2 v3.3"/>
<path d="M647.4 438.1 v-3.3"/>
<path d="M647.4 107.9 v6.6"/>
<path d="M647.4 216.9 v6.6"/>
<path d="M647.4 325.9 v6.6"/>
<path d="M653.5 2.2 v3.3"/>
<path d="M653.5 438.1 v-3.3"/>
<path d="M653.5 107.9 v6.6"/>
<path d="M653.5 216.9 v6.6"/>
<path d="M653.5 325.9 v6.6"/>
<path d="M658.8 2.2 v3.3"/>
<path d="M658.8 438.1 v-3.3"/>
<path d="M658.8 107.9 v6.6"/>
<path d="M658.8 216.9 v6.6"/>
<path d="M658.8 325.9 v6.6"/>
<path d="M663.5 2.2 v3.3"/>
<path d="M663.5 438.1 v-3.3"/>
<path d="M663.5 107.9 v6.6"/>
<path d="M663.5 216.9 v6.6"/>
<path d="M663.5 325.9 v6.6"/>
<path d="M667.7 2.2 v6.6"/>
<path d="M667.7 438.1 v-6.6"/>
<path d="M667.7 104.6 v13.2"/>
<path d="M667.7 213.6 v13.2"/>
<path d="M667.7 322.6 v13.2"/>
<path d="M695.2 2.2 v3.3"/>
<path d="M695.2 438.1 v-3.3"/>
<path d="M695.2 107.9 v6.6"/>
<path d="M695.2 216.9 v6.6"/>
<path d="M695.2 325.9 v6.6"/>
<path d="M711.3 2.2 v3.3"/>
<path d="M711.3 438.1 v-3.3"/>
<path d="M711.3 107.9 v6.6"/>
<path d="M711.3 216.9 v6.6"/>
<path d="M711.3 325.9 v6.6"/>
<path d="M722.8 2.2 v3.3"/>
<path d="M722.8 438.1 v-3.3"/>
<path d="M722.8 107.9 v6.6"/>
<path d="M722.8 216.9 v6.6"/>
<path d="M722.8 325.9 v6.6"/>
<path d="M731.6 2.2 v3.3"/>
<path d="M731.6 438.1 v-3.3"/>
<path d="M731.6 107.9 v6.6"/>
<path d="M731.6 216.9 v6.6"/>
<path d="M731.6 325.9 v6.6"/>
<path d="M738.9 2.2 v3.3"/>
<path d="M738.9 438.1 v-3.3"/>
<path d="M738.9 107.9 v6.6"/>
<path d="M738.9 216.9 v6.6"/>
<path d="M738.9 325.9 v6.6"/>
<path d="M745 2.2 v3.3"/>
<path d="M745 438.1 v-3.3"/>
<path d="M745 107.9 v6.6"/>
<path d="M745 216.9 v6.6"/>
<path d="M745 325.9 v6.6"/>
<path d="M528.4 104.8 h3.4 M745 104.8 h-3.4"/>
<path d="M528.4 100.3 h3.4 M745 100.3 h-3.4"/>
<path d="M528.4 96.7 h3.4 M745 96.7 h-3.4"/>
<path d="M528.4 93.9 h3.4 M745 93.9 h-3.4"/>
<path d="M528.4 91.4 h3.4 M745 91.4 h-3.4"/>
<path d="M528.4 89.3 h3.4 M745 89.3 h-3.4"/>
<path d="M528.4 87.5 h3.4 M745 87.5 h-3.4"/>
<path d="M528.4 85.8 h6.8 M745 85.8 h-6.8"/>
<path d="M528.4 74.9 h3.4 M745 74.9 h-3.4"/>
<path d="M528.4 68.5 h3.4 M745 68.5 h-3.4"/>
<path d="M528.4 63.9 h3.4 M745 63.9 h-3.4"/>
<path d="M528.4 60.4 h3.4 M745 60.4 h-3.4"/>
<path d="M528.4 57.5 h3.4 M745 57.5 h-3.4"/>
<path d="M528.4 55.1 h3.4 M745 55.1 h-3.4"/>
<path d="M528.4 53 h3.4 M745 53 h-3.4"/>
<path d="M528.4 51.1 h3.4 M745 51.1 h-3.4"/>
<path d="M528.4 49.5 h6.8 M745 49.5 h-6.8"/>
<path d="M528.4 38.5 h3.4 M745 38.5 h-3.4"/>
<path d="M528.4 32.1 h3.4 M745 32.1 h-3.4"/>
<path d="M528.4 27.6 h3.4 M745 27.6 h-3.4"/>
<path d="M528.4 24.1 h3.4 M745 24.1 h-3.4"/>
<path d="M528.4 21.2 h3.4 M745 21.2 h-3.4"/>
<path d="M528.4 18.8 h3.4 M745 18.8 h-3.4"/>
<path d="M528.4 16.7 h3.4 M745 16.7 h-3.4"/>
<path d="M528.4 14.8 h3.4 M745 14.8 h-3.4"/>
<path d="M528.4 13.1 h6.8 M745 13.1 h-6.8"/>
<path d="M528.4 213.8 h3.4 M745 213.8 h-3.4"/>
<path d="M528.4 209.3 h3.4 M745 209.3 h-3.4"/>
<path d="M528.4 205.7 h3.4 M745 205.7 h-3.4"/>
<path d="M528.4 202.9 h3.4 M745 202.9 h-3.4"/>
<path d="M528.4 200.4 h3.4 M745 200.4 h-3.4"/>
<path d="M528.4 198.3 h3.4 M745 198.3 h-3.4"/>
<path d="M528.4 196.5 h3.4 M745 196.5 h-3.4"/>
<path d="M528.4 194.8 h6.8 M745 194.8 h-6.8"/>
<path d="M528.4 183.9 h3.4 M745 183.9 h-3.4"/>
<path d="M528.4 177.5 h3.4 M745 177.5 h-3.4"/>
<path d="M528.4 172.9 h3.4 M745 172.9 h-3.4"/>
<path d="M528.4 169.4 h3.4 M745 169.4 h-3.4"/>
<path d="M528.4 166.5 h3.4 M745 166.5 h-3.4"/>
<path d="M528.4 164.1 h3.4 M745 164.1 h-3.4"/>
<path d="M528.4 162 h3.4 M745 162 h-3.4"/>
<path d="M528.4 160.1 h3.4 M745 160.1 h-3.4"/>
<path d="M528.4 158.5 h6.8 M745 158.5 h-6.8"/>
<path d="M528.4 147.5 h3.4 M745 147.5 h-3.4"/>
<path d="M528.4 141.1 h3.4 M745 141.1 h-3.4"/>
<path d="M528.4 136.6 h3.4 M745 136.6 h-3.4"/>
<path d="M528.4 133.1 h3.4 M745 133.1 h-3.4"/>
<path d="M528.4 130.2 h3.4 M745 130.2 h-3.4"/>
<path d="M528.4 127.8 h3.4 M745 127.8 h-3.4"/>
<path d="M528.4 125.7 h3.4 M745 125.7 h-3.4"/>
<path d="M528.4 123.8 h3.4 M745 123.8 h-3.4"/>
<path d="M528.4 122.1 h6.8 M745 122.1 h-6.8"/>
<path d="M528.4 322.8 h3.4 M745 322.8 h-3.4"/>
<path d="M528.4 318.3 h3.4 M745 318.3 h-3.4"/>
<path d="M528.4 314.7 h3.4 M745 314.7 h-3.4"/>
<path d="M528.4 311.9 h3.4 M745 311.9 h-3.4"/>
<path d="M528.4 309.4 h3.4 M745 309.4 h-3.4"/>
<path d="M528.4 307.3 h3.4 M745 307.3 h-3.4"/>
<path d="M528.4 305.5 h3.4 M745 305.5 h-3.4"/>
<path d="M528.4 303.8 h6.8 M745 303.8 h-6.8"/>
<path d="M528.4 292.9 h3.4 M745 292.9 h-3.4"/>
<path d="M528.4 286.5 h3.4 M745 286.5 h-3.4"/>
<path d="M528.4 281.9 h3.4 M745 281.9 h-3.4"/>
<path d="M528.4 278.4 h3.4 M745 278.4 h-3.4"/>
<path d="M528.4 275.5 h3.4 M745 275.5 h-3.4"/>
<path d="M528.4 273.1 h3.4 M745 273.1 h-3.4"/>
<path d="M528.4 271 h3.4 M745 271 h-3.4"/>
<path d="M528.4 269.1 h3.4 M745 269.1 h-3.4"/>
<path d="M528.4 267.5 h6.8 M745 267.5 h-6.8"/>
<path d="M528.4 256.5 h3.4 M745 256.5 h-3.4"/>
<path d="M528.4 250.1 h3.4 M745 250.1 h-3.4"/>
<path d="M528.4 245.6 h3.4 M745 245.6 h-3.4"/>
<path d="M528.4 242.1 h3.4 M745 242.1 h-3.4"/>
<path d="M528.4 239.2 h3.4 M745 239.2 h-3.4"/>
<path d="M528.4 236.8 h3.4 M745 236.8 h-3.4"/>
<path d="M528.4 234.7 h3.4 M745 234.7 h-3.4"/>
<path d="M528.4 232.8 h3.4 M745 232.8 h-3.4"/>
<path d="M528.4 231.1 h6.8 M745 231.1 h-6.8"/>
<path d="M528.4 431.7 h3.4 M745 431.7 h-3.4"/>
<path d="M528.4 427.2 h3.4 M745 427.2 h-3.4"/>
<path d="M528.4 423.7 h3.4 M745 423.7 h-3.4"/>
<path d="M528.4 420.8 h3.4 M745 420.8 h-3.4"/>
<path d="M528.4 418.4 h3.4 M745 418.4 h-3.4"/>
<path d="M528.4 416.2 h3.4 M745 416.2 h-3.4"/>
<path d="M528.4 414.4 h3.4 M745 414.4 h-3.4"/>
<path d="M528.4 412.7 h6.8 M745 412.7 h-6.8"/>
<path d="M528.4 401.8 h3.4 M745 401.8 h-3.4"/>
<path d="M528.4 395.4 h3.4 M745 395.4 h-3.4"/>
<path d="M528.4 390.9 h3.4 M745 390.9 h-3.4"/>
<path d="M528.4 387.4 h3.4 M745 387.4 h-3.4"/>
<path d="M528.4 384.5 h3.4 M745 384.5 h-3.4"/>
<path d="M528.4 382.1 h3.4 M745 382.1 h-3.4"/>
<path d="M528.4 379.9 h3.4 M745 379.9 h-3.4"/>
<path d="M528.4 378.1 h3.4 M745 378.1 h-3.4"/>
<path d="M528.4 376.4 h6.8 M745 376.4 h-6.8"/>
<path d="M528.4 365.5 h3.4 M745 365.5 h-3.4"/>
<path d="M528.4 359.1 h3.4 M745 359.1 h-3.4"/>
<path d="M528.4 354.6 h3.4 M745 354.6 h-3.4"/>
<path d="M528.4 351.1 h3.4 M745 351.1 h-3.4"/>
<path d="M528.4 348.2 h3.4 M745 348.2 h-3.4"/>
<path d="M528.4 345.8 h3.4 M745 345.8 h-3.4"/>
<path d="M528.4 343.6 h3.4 M745 343.6 h-3.4"/>
<path d="M528.4 341.8 h3.4 M745 341.8 h-3.4"/>
<path d="M528.4 340.1 h6.8 M745 340.1 h-6.8"/>
</g>
<g stroke="#000" stroke-width="1.55" fill="none">
<rect x="528.4" y="2.2" width="216.6" height="435.9"/>
<path d="M528.4 111.2 H745"/>
<path d="M528.4 220.2 H745"/>
<path d="M528.4 329.2 H745"/>
</g>
<text transform="matrix(0.2151 0 0 0.2015 751.71 18.64)" font-size="100" fill="#000">10</text>
<text transform="matrix(0.1875 0 0 0.2045 752.55 55.57)" font-size="100" fill="#000">1</text>
<text transform="matrix(0.2075 0 0 0.2061 751.91 91.71)" font-size="100" fill="#000">0.1</text>
<text transform="matrix(0.2151 0 0 0.2015 751.71 127.64)" font-size="100" fill="#000">10</text>
<text transform="matrix(0.1875 0 0 0.2045 752.55 164.57)" font-size="100" fill="#000">1</text>
<text transform="matrix(0.2075 0 0 0.2061 751.91 200.71)" font-size="100" fill="#000">0.1</text>
<text transform="matrix(0.2151 0 0 0.2015 751.71 236.64)" font-size="100" fill="#000">10</text>
<text transform="matrix(0.1875 0 0 0.2045 752.55 273.57)" font-size="100" fill="#000">1</text>
<text transform="matrix(0.2075 0 0 0.2061 751.91 309.71)" font-size="100" fill="#000">0.1</text>
<text transform="matrix(0.2151 0 0 0.2015 751.71 345.63)" font-size="100" fill="#000">10</text>
<text transform="matrix(0.1875 0 0 0.2045 752.55 382.53)" font-size="100" fill="#000">1</text>
<text transform="matrix(0.2075 0 0 0.2061 751.91 418.64)" font-size="100" fill="#000">0.1</text>
<text transform="matrix(0.2017 0 0 0.2060 570.63 461.60)" font-size="100" fill="#000">1</text>
<text transform="matrix(0.2197 0 0 0.2015 656.67 461.40)" font-size="100" fill="#000">10</text>
<text transform="matrix(0.4303 0 0 0.3971 612.36 497.60)" font-size="100" fill="#000" stroke="#fff" stroke-width="0.6" vector-effect="non-scaling-stroke" font-style="italic">Γ</text>
<text transform="matrix(0.3544 0 0 0.2613 633.13 508.10)" font-size="100" fill="#000" stroke="#fff" stroke-width="0.6" vector-effect="non-scaling-stroke" font-style="italic">i</text>
<text transform="matrix(0.2686 0 0 0.2959 644.18 507.75)" font-size="100" fill="#000">,</text>
<text transform="matrix(0.3129 0 0 0.2568 650.03 508.10)" font-size="100" fill="#000" font-style="italic">r</text>
<text transform="rotate(-90) matrix(0.4502 0 0 0.4093 -262.56 811.40)" font-size="100" fill="#000" stroke="#fff" stroke-width="0.6" vector-effect="non-scaling-stroke" font-style="italic">P</text>
<text transform="rotate(-90) matrix(0.4049 0 0 0.4356 -237.48 812.23)" font-size="100" fill="#000" stroke="#fff" stroke-width="1" vector-effect="non-scaling-stroke">(</text>
<text transform="rotate(-90) matrix(0.4270 0 0 0.4093 -222.15 811.40)" font-size="100" fill="#000" stroke="#fff" stroke-width="0.6" vector-effect="non-scaling-stroke" font-style="italic">Γ</text>
<text transform="rotate(-90) matrix(0.4534 0 0 0.2719 -203.42 822.10)" font-size="100" fill="#000" stroke="#fff" stroke-width="0.7" vector-effect="non-scaling-stroke" font-style="italic">i</text>
<text transform="rotate(-90) matrix(0.2753 0 0 0.3193 -191.55 821.29)" font-size="100" fill="#000" stroke="#fff" stroke-width="0.4" vector-effect="non-scaling-stroke">,</text>
<text transform="rotate(-90) matrix(0.3214 0 0 0.2462 -186.00 822.10)" font-size="100" fill="#000" font-style="italic">r</text>
<text transform="rotate(-90) matrix(0.3777 0 0 0.4224 -171.92 811.31)" font-size="100" fill="#000" stroke="#fff" stroke-width="1" vector-effect="non-scaling-stroke">)</text>
<text transform="matrix(0.4394 0 0 0.3809 706.44 44.53)" font-size="100" fill="#000" font-weight="bold">b</text>
</svg>
</body>
</html>
